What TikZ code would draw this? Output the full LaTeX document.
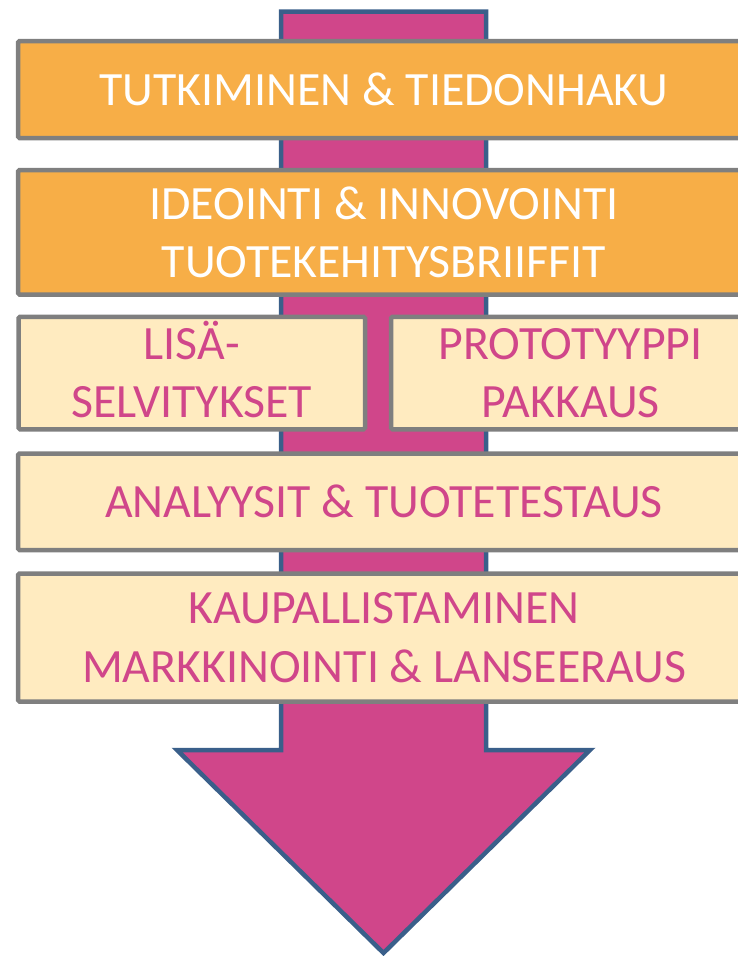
\documentclass[tikz,border=0pt]{standalone}
\usepackage{fontspec}
\setmainfont{Carlito}
\definecolor{arrowpink}{HTML}{D0468A}
\definecolor{arrowblue}{HTML}{3A5F8A}
\definecolor{boxgray}{HTML}{7F7F7F}
\definecolor{orangefill}{HTML}{F7AE47}
\definecolor{lightfill}{HTML}{FFEBC0}
\begin{document}
\begin{tikzpicture}[x=1pt,y=-1pt,
  box/.style={draw=boxgray, line width=4.5pt, rectangle, rounded corners=1.5pt, inner sep=0pt, align=center, font=\fontsize{47.8}{58.5}\selectfont},
  darkbox/.style={box, fill=orangefill, text=white},
  lightbox/.style={box, fill=lightfill, text=arrowpink}]
\useasboundingbox (0,0) rectangle (738,956);
\clip (0,0) rectangle (738,956);
\filldraw[fill=arrowpink, draw=arrowblue, line width=4.5pt, miter limit=10]
  (281,11.5) -- (486,11.5) -- (486,750) -- (590,750) -- (383.5,953) -- (177,750) -- (281,750) -- cycle;
\node[darkbox, minimum width=732pt, minimum height=97pt] (b1) at (384,89.5) {TUTKIMINEN \& TIEDONHAKU};
\node[darkbox, minimum width=732pt, minimum height=124.5pt] (b2) at (384,232.25) {IDEOINTI \& INNOVOINTI\\TUOTEKEHITYSBRIIFFIT};
\node[lightbox, minimum width=346.5pt, minimum height=112.5pt] (b3a) at (191.75,373) {LIS\smash{Ä}-\\SELVITYKSET};
\node[lightbox, minimum width=359pt, minimum height=112.5pt] (b3b) at (570.5,373) {PROTOTYYPPI\\PAKKAUS};
\node[lightbox, minimum width=732pt, minimum height=96.5pt] (b4) at (384,501.75) {ANALYYSIT \& TUOTETESTAUS};
\node[lightbox, minimum width=732pt, minimum height=128pt] (b5) at (384,637.5) {KAUPALLISTAMINEN\\MARKKINOINTI \& LANSEERAUS};
\end{tikzpicture}
\end{document}
